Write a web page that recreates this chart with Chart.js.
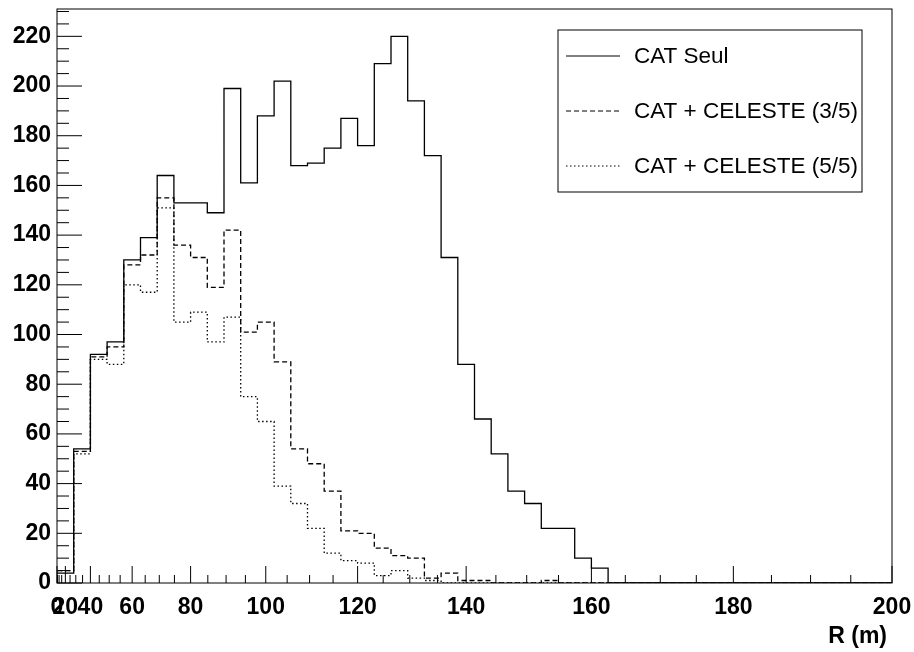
<!DOCTYPE html>
<html>
<head>
<meta charset="utf-8">
<title>R (m)</title>
<script src="https://cdn.jsdelivr.net/npm/chart.js@4.4.0/dist/chart.umd.min.js"></script>
<style>
  body { margin: 0; background: #fff; }
  #wrap { width: 914px; height: 652px; }
</style>
</head>
<body>
<div id="wrap"><canvas id="chartR" width="914" height="652"></canvas></div>
<script>
      // histogram binned in R^2 (50 bins of 800 m^2), axis labelled in R
      const binWidth = 800;
      const catSeul = [4, 54, 92, 97, 130, 139, 164, 153, 153, 149,
        199, 161, 188, 202, 168, 169, 175, 187, 176, 209,
        220, 194, 172, 131, 88, 66, 52, 37, 32, 22,
        22, 10, 6, 0, 0, 0, 0, 0, 0, 0,
        0, 0, 0, 0, 0, 0, 0, 0, 0, 0];
      const catCeleste35 = [5, 53, 91, 95, 128, 132, 155, 136, 131, 119,
        142, 101, 105, 89, 54, 48, 37, 21, 20, 14,
        11, 10, 2, 4, 1, 1, 0, 0, 0, 1,
        0, 0, 0, 0, 0, 0, 0, 0, 0, 0,
        0, 0, 0, 0, 0, 0, 0, 0, 0, 0];
      const catCeleste55 = [5, 52, 90, 88, 120, 117, 151, 105, 109, 97,
        107, 75, 65, 39, 32, 22, 12, 9, 8, 3,
        5, 2, 1, 0, 0, 0, 0, 0, 0, 0,
        0, 0, 0, 0, 0, 0, 0, 0, 0, 0,
        0, 0, 0, 0, 0, 0, 0, 0, 0, 0];
      const xTickR = [0, 20, 40, 60, 80, 100, 120, 140, 160, 180, 200];
      const yTicks = [0, 20, 40, 60, 80, 100, 120, 140, 160, 180, 200, 220];
      const yMax = 231;
      const legendLabels = ["CAT Seul", "CAT + CELESTE (3/5)", "CAT + CELESTE (5/5)"];

      const tickFont = { family: "'Liberation Sans', Arial, sans-serif", size: 23, weight: "bold" };
      const dashes = [[], [5, 3], [1.5, 2.5]];

      // two points per bin -> histogram outline
      const toSteps = (vals) => vals.flatMap((v, i) => [
        { x: i * binWidth, y: v },
        { x: (i + 1) * binWidth, y: v }
      ]);

      // ticks inside the frame, frame, legend box and axis title
      const rootFrame = {
        id: "rootFrame",
        afterDraw(chart) {
          const { ctx, chartArea: a, scales: { x, y } } = chart;
          ctx.save();
          ctx.strokeStyle = "#000";
          ctx.lineWidth = 1;
          ctx.setLineDash([]);
          ctx.strokeRect(a.left, a.top, a.right - a.left, a.bottom - a.top);

          ctx.beginPath();
          for (let r = 0; r <= 200; r += 5) {
            const px = x.getPixelForValue(r * r);
            const len = (r % 20 === 0) ? 17 : 8;
            ctx.moveTo(px, a.bottom);
            ctx.lineTo(px, a.bottom - len);
          }
          for (let v = 0; v <= yMax; v += 5) {
            const py = y.getPixelForValue(v);
            const len = (v % 20 === 0) ? 25 : 12;
            ctx.moveTo(a.left, py);
            ctx.lineTo(a.left + len, py);
          }
          ctx.stroke();

          // legend
          ctx.strokeRect(558, 30, 304, 162);
          ctx.font = "22.5px 'Liberation Sans', Arial, sans-serif";
          ctx.fillStyle = "#000";
          ctx.textBaseline = "alphabetic";
          legendLabels.forEach((label, i) => {
            const base = 63 + i * 55;
            ctx.setLineDash(dashes[i]);
            ctx.beginPath();
            ctx.moveTo(566, base - 7);
            ctx.lineTo(620, base - 7);
            ctx.stroke();
            ctx.fillText(label, 634, base);
          });

          // axis title
          ctx.setLineDash([]);
          ctx.font = "bold 23px 'Liberation Sans', Arial, sans-serif";
          ctx.textAlign = "right";
          ctx.fillText("R (m)", 887, 643);
          ctx.restore();
        }
      };

      const makeSet = (label, vals, dash) => ({
        label: label,
        data: toSteps(vals),
        borderColor: "#000",
        borderWidth: 1.3,
        borderDash: dash,
        pointRadius: 0,
        fill: false,
        tension: 0
      });

      const chartR = new Chart(document.getElementById("chartR"), {
        type: "line",
        data: {
          datasets: [
            makeSet(legendLabels[0], catSeul, dashes[0]),
            makeSet(legendLabels[1], catCeleste35, dashes[1]),
            makeSet(legendLabels[2], catCeleste55, dashes[2])
          ]
        },
        options: {
          responsive: false,
          animation: false,
          devicePixelRatio: 1,
          layout: { padding: { top: 9, right: 22, left: 0, bottom: 0 } },
          plugins: { legend: { display: false }, tooltip: { enabled: false } },
          scales: {
            x: {
              type: "linear",
              min: 0,
              max: 40000,
              afterBuildTicks: (scale) => { scale.ticks = xTickR.map(r => ({ value: r * r })); },
              afterFit: (scale) => {
                scale.height = 69;
                scale.paddingLeft = 0;
                scale.paddingRight = 0;
              },
              grid: { display: false, drawTicks: false },
              border: { display: false },
              ticks: {
                autoSkip: false,
                maxRotation: 0,
                minRotation: 0,
                padding: 11,
                color: "#000",
                font: tickFont,
                callback: (value) => String(Math.round(Math.sqrt(value)))
              }
            },
            y: {
              min: 0,
              max: yMax,
              afterBuildTicks: (scale) => { scale.ticks = yTicks.map(v => ({ value: v })); },
              afterFit: (scale) => {
                scale.width = 57;
                scale.paddingTop = 0;
                scale.paddingBottom = 0;
              },
              grid: { display: false, drawTicks: false },
              border: { display: false },
              ticks: { padding: 6, color: "#000", font: tickFont }
            }
          }
        },
        plugins: [rootFrame]
      });
</script>
</body>
</html>
